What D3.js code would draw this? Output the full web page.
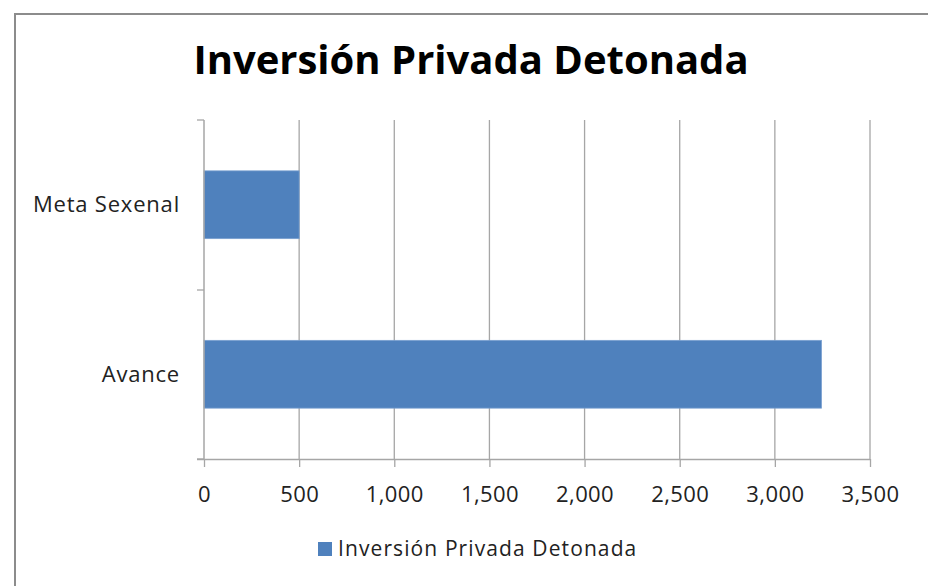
<!DOCTYPE html>
<html><head><meta charset="utf-8">
<script src="https://cdn.jsdelivr.net/npm/d3@7"></script>
<style>body{margin:0;background:#fff}svg{display:block}</style>
</head><body>
<script>
const categories = ["Meta Sexenal", "Avance"];
const values = [500, 3245];
const xTicks = [0, 500, 1000, 1500, 2000, 2500, 3000, 3500];
const title = "Inversión Privada Detonada";
const seriesName = "Inversión Privada Detonada";

const W = 928, H = 586;
const font = "'Open Sans', sans-serif";
const svg = d3.select("body").append("svg").attr("width", W).attr("height", H);

// frame
svg.append("path").attr("d", `M15,${H} L15,14 L${W},14`).attr("fill","none").attr("stroke","#8c8c8c").attr("stroke-width",2);

const x = d3.scaleLinear().domain([0, 3500]).range([204, 870]);
const y = d3.scaleBand().domain(categories).range([120, 459]).paddingInner(0.6).paddingOuter(0.3);

// gridlines
svg.append("g").selectAll("line").data(xTicks.slice(1)).join("line")
  .attr("x1", d => x(d)).attr("x2", d => x(d)).attr("y1", 120).attr("y2", 459)
  .attr("stroke", "#a6a6a6").attr("stroke-width", 1.3);

// bars
svg.append("g").selectAll("rect").data(categories).join("rect")
  .attr("x", x(0)).attr("y", d => y(d))
  .attr("width", (d, i) => x(values[i]) - x(0)).attr("height", y.bandwidth())
  .attr("fill", "#4f81bd").attr("stroke", "#7aa0d0").attr("stroke-width", 0.8);

// x axis
const xAxis = d3.axisBottom(x).tickValues(xTicks).tickSize(8).tickPadding(19)
  .tickFormat(d3.format(","));
const gx = svg.append("g").attr("transform", "translate(0,459)").call(xAxis);
gx.select(".domain").attr("d", `M197,0.5H${x(3500)}`).attr("stroke", "#a6a6a6").attr("stroke-width", 1.5);
gx.selectAll(".tick line").attr("stroke", "#a6a6a6").attr("stroke-width", 1.3);
gx.selectAll(".tick text").attr("font-family", font).attr("font-size", 22)
  .attr("letter-spacing", "0.4px").attr("fill", "#222");

// y axis
const yEdges = [120, 290, 459];
svg.append("line").attr("x1", 204).attr("x2", 204).attr("y1", 120).attr("y2", 459)
  .attr("stroke", "#a6a6a6").attr("stroke-width", 1.5);
svg.append("g").selectAll("line").data(yEdges).join("line")
  .attr("x1", 197).attr("x2", 204).attr("y1", d => d).attr("y2", d => d)
  .attr("stroke", "#a6a6a6").attr("stroke-width", 1.3);
svg.append("g").selectAll("text").data(categories).join("text")
  .attr("x", 180).attr("y", d => y(d) + y.bandwidth() / 2)
  .attr("dy", "0.35em").attr("text-anchor", "end")
  .attr("font-family", font).attr("font-size", 22).attr("letter-spacing", "0.8px").attr("fill", "#222")
  .text(d => d);

// title
svg.append("text").attr("x", 471).attr("y", 74).attr("text-anchor", "middle")
  .attr("font-family", font).attr("font-weight", "bold").attr("font-size", 40).attr("fill", "#000")
  .text(title);

// legend
svg.append("rect").attr("x", 318).attr("y", 542).attr("width", 14).attr("height", 14).attr("fill", "#4f81bd");
svg.append("text").attr("x", 338).attr("y", 549).attr("dy", "0.35em")
  .attr("font-family", font).attr("font-size", 21).attr("letter-spacing", "1.1px").attr("fill", "#222").text(seriesName);
</script>
</body></html>
